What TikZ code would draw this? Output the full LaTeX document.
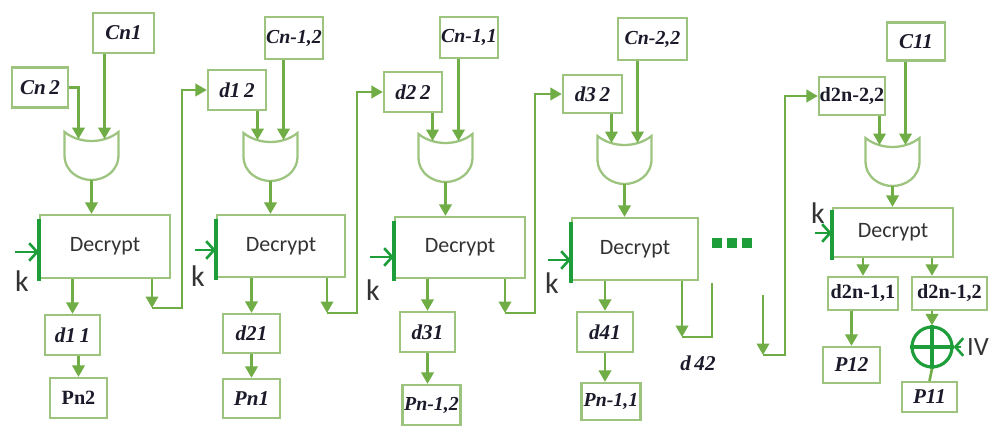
\documentclass[tikz,border=0pt]{standalone}
\usepackage{fontspec}
\setmainfont{Liberation Serif}
\newfontfamily\calibri{Carlito}
\usetikzlibrary{arrows.meta}
\definecolor{boxgreen}{HTML}{9CC47F}
\definecolor{flowgreen}{HTML}{70AD47}
\definecolor{keygreen}{HTML}{1E9E3A}
\definecolor{labtext}{HTML}{1A1A2A}
\definecolor{dectext}{HTML}{333333}
\begin{document}
\begin{tikzpicture}
    [ x=0.02cm, y=-0.02cm,
      lab/.style={draw=boxgreen, line width=1.3pt, inner sep=0pt, minimum height=0.8cm,
                  font=\fontsize{12}{14}\selectfont\bfseries\itshape, text=labtext},
      narrow/.style={font=\fontsize{11.3}{13}\selectfont\bfseries\itshape},
      upr/.style={font=\fontsize{11.5}{14}\selectfont\bfseries},
      dec/.style={draw=boxgreen, line width=1.3pt, minimum width=2.6cm, minimum height=1.26cm,
                  font=\calibri\fontsize{12.5}{14}\selectfont, text=dectext},
      flow/.style={draw=flowgreen, line width=1.5pt, -{Triangle[length=6.5pt,width=7pt]}},
      plain/.style={draw=flowgreen, line width=1.5pt},
      keyarrow/.style={draw=keygreen, line width=1.5pt, -{Straight Barb[length=4.5pt,width=10pt]}},
      keybar/.style={draw=keygreen, line width=2.4pt},
      kfont/.style={font=\calibri\fontsize{17}{18}\selectfont, text=dectext},
      dots/.style={fill=keygreen, inner sep=0pt, minimum size=0.2cm},
      gate/.pic={
        \draw[boxgreen, line width=1.3pt] (-27,0) .. controls (-12,12) and (12,12) .. (27,0)
          -- (27,23) .. controls (27,40) and (12,48) .. (0,48)
          .. controls (-12,48) and (-27,40) .. (-27,23) -- cycle;
        \coordinate (-in1) at (-13,7);
        \coordinate (-in2) at (13,7);
        \coordinate (-out) at (0,48);
      } ]

    \useasboundingbox (0,0) rectangle (994,428);

    % stage 1
    \node (cn2) at (40,87.5) [lab, minimum width=1.12cm] {Cn\,2};
    \node (cn1) at (123.5,33) [lab, minimum width=1.22cm] {Cn1};
    \pic (g1) at (91.5,132) {gate};
    \node (dec1) at (105,246.5) [dec] {Decrypt};
    \node (d11) at (72.5,335) [lab, minimum width=1.10cm] {d1\,1};
    \node (pn2) at (78.5,398) [lab, upr, minimum width=1.14cm] {Pn2};

    \draw[flow] (cn2.east) -| (g1-in1);
    \draw[flow] (cn1.south -| g1-in2) -- (g1-in2);
    \draw[flow] (g1-out) -- (g1-out |- dec1.north);
    \draw[flow] (dec1.south -| d11) -- (d11.north);
    \draw[flow] (d11.south -| pn2) -- (pn2.north);

    \coordinate (k1) at (15,252);
    \draw[keyarrow] (k1) -- (k1 -| dec1.west);
    \draw[keybar] ([yshift=-0.1cm]dec1.north west) -- ([yshift=-0.04cm]dec1.south west);
    \node (lk1) at (22,281) [kfont] {k};

    % stage 2
    \node (d12) at (237,90) [lab, minimum width=1.16cm] {d1\,2};
    \node (cn12) at (294,38) [lab, narrow, minimum width=1.16cm, minimum height=0.84cm] {Cn-1,2};
    \pic (g2) at (270.5,133) {gate};
    \node (dec2) at (281,246) [dec, minimum width=2.56cm, minimum height=1.24cm] {Decrypt};
    \node (d21) at (251.5,333.5) [lab, minimum width=1.14cm, minimum height=0.78cm] {d21};
    \node (pn1) at (251.5,398.5) [lab, minimum width=1.14cm, minimum height=0.78cm] {Pn1};

    \coordinate (f1a) at (152,308);
    \coordinate (f1b) at (182,308);
    \draw[flow] (dec1.south -| f1a) -- (f1a);
    \draw[flow] (f1a) -- (f1b) |- (d12.west);

    \draw[flow] (d12.south -| g2-in1) -- (g2-in1);
    \draw[flow] (cn12.south -| g2-in2) -- (g2-in2);
    \draw[flow] (g2-out) -- (g2-out |- dec2.north);
    \draw[flow] (dec2.south -| d21) -- (d21.north);
    \draw[flow] (d21) -- (pn1);

    \coordinate (k2) at (195,250);
    \draw[keyarrow] (k2) -- (k2 -| dec2.west);
    \draw[keybar] ([yshift=-0.1cm]dec2.north west) -- ([yshift=-0.04cm]dec2.south west);
    \node (lk2) at (198,276) [kfont] {k};

    % stage 3
    \node (d22) at (413,92) [lab, minimum width=1.16cm] {d2\,2};
    \node (cn11) at (469,37.5) [lab, narrow, minimum width=1.16cm, minimum height=0.82cm] {Cn-1,1};
    \pic (g3) at (445.5,134) {gate};
    \node (dec3) at (460,247.5) [dec, minimum height=1.22cm] {Decrypt};
    \node (d31) at (427.5,332) [lab, minimum width=1.10cm] {d31};
    \node (pn12) at (431.5,405) [lab, narrow, minimum width=1.16cm] {Pn-1,2};

    \coordinate (f2a) at (327,313);
    \coordinate (f2b) at (357,313);
    \draw[flow] (dec2.south -| f2a) -- (f2a);
    \draw[flow] (f2a) -- (f2b) |- (d22.west);

    \draw[flow] (d22.south -| g3-in1) -- (g3-in1);
    \draw[flow] (cn11.south -| g3-in2) -- (g3-in2);
    \draw[flow] (g3-out) -- (g3-out |- dec3.north);
    \draw[flow] (dec3.south -| d31) -- (d31.north);
    \draw[flow] (d31.south) -- (d31.south |- pn12.north);

    \coordinate (k3) at (370,257);
    \draw[keyarrow] (k3) -- (k3 -| dec3.west);
    \draw[keybar] ([yshift=-0.1cm]dec3.north west) -- ([yshift=-0.04cm]dec3.south west);
    \node (lk3) at (373,290) [kfont] {k};

    % stage 4
    \node (d32) at (592.5,94) [lab, minimum width=1.18cm, minimum height=0.76cm] {d3\,2};
    \node (cn22) at (652.5,39) [lab, narrow, minimum width=1.38cm, minimum height=0.84cm] {Cn-2,2};
    \pic (g4) at (624.5,136) {gate};
    \node (dec4) at (635,249) [dec, minimum width=2.52cm, minimum height=1.24cm] {Decrypt};
    \node (d41) at (605,332) [lab, minimum width=1.12cm] {d41};
    \node (pn11) at (611,401.5) [lab, narrow, minimum width=1.18cm, minimum height=0.74cm] {Pn-1,1};

    \coordinate (f3a) at (505,313);
    \coordinate (f3b) at (535,313);
    \draw[flow] (dec3.south -| f3a) -- (f3a);
    \draw[flow] (f3a) -- (f3b) |- (d32.west);

    \draw[flow] (d32.south -| g4-in1) -- (g4-in1);
    \draw[flow] (cn22.south -| g4-in2) -- (g4-in2);
    \draw[flow] (g4-out) -- (g4-out |- dec4.north);
    \draw[flow] (dec4.south -| d41) -- (d41.north);
    \draw[flow] (d41.south) -- (d41.south |- pn11.north);

    \coordinate (k4) at (548,260);
    \draw[keyarrow] (k4) -- (k4 -| dec4.west);
    \draw[keybar] ([yshift=-0.1cm]dec4.north west) -- ([yshift=-0.04cm]dec4.south west);
    \node (lk4) at (552,283) [kfont] {k};

    \node (dot1) at (717,243) [dots] {};
    \node (dot2) at (732,243) [dots] {};
    \node (dot3) at (747,243) [dots] {};

    \coordinate (f4a) at (682,337);
    \coordinate (f4b) at (712,337);
    \coordinate (f4c) at (712,283);
    \draw[flow] (dec4.south -| f4a) -- (f4a);
    \draw[plain] (f4a) -- (f4b) -- (f4c);
    \node (d42) at (698,363) [font=\fontsize{12}{14}\selectfont\bfseries\itshape, text=labtext] {d\,42};

    % stage 5
    \node (d2n22) at (852,96) [lab, upr, minimum width=1.32cm, minimum height=0.76cm] {d2n-2,2};
    \node (c11) at (916,41.5) [lab, minimum width=1.16cm, minimum height=0.76cm] {C11};
    \pic (g5) at (892.5,138) {gate};
    \node (dec5) at (893,232.5) [dec, minimum width=2.4cm, minimum height=0.98cm] {Decrypt};
    \node (d2n11) at (863,293.5) [lab, upr, minimum width=1.40cm, minimum height=0.66cm] {d2n-1,1};
    \node (d2n12) at (949.5,293.5) [lab, upr, minimum width=1.50cm, minimum height=0.66cm] {d2n-1,2};
    \node (p12) at (851.5,365) [lab, minimum width=1.14cm, minimum height=0.72cm] {P12};
    \node (xor) at (932,347) [circle, draw=keygreen, line width=1.8pt, minimum size=0.8cm, inner sep=0pt] {};
    \node (p11) at (929.5,397) [lab, minimum width=1.10cm, minimum height=0.6cm] {P11};
    \node (iv) at (978,347) [font=\calibri\fontsize{15}{16}\selectfont, text=dectext] {IV};

    \coordinate (f5a) at (763,295);
    \coordinate (f5b) at (763,355);
    \coordinate (f5c) at (785,355);
    \draw[flow] (f5a) -- (f5b);
    \draw[flow] (f5b) -- (f5c) |- (d2n22.west);

    \draw[flow] (d2n22.south -| g5-in1) -- (g5-in1);
    \draw[flow] (c11.south -| g5-in2) -- (g5-in2);
    \draw[flow] (g5-out) -- (g5-out |- dec5.north);
    \draw[flow] (dec5.south -| d2n11) -- (d2n11.north);
    \draw[flow] (dec5.south -| xor) -- (xor |- d2n12.north);
    \draw[flow] (d2n11.south -| p12) -- (p12.north);
    \draw[flow] (d2n12.south -| xor) -- (xor.north);
    \draw[keygreen, line width=1.8pt] (xor.north) -- (xor.south);
    \draw[keygreen, line width=1.8pt] (xor.west) -- (xor.east);
    \draw[keyarrow] (iv.west) -- (xor.east);
    \draw[plain] (xor.south) -- (p11.north);

    \coordinate (k5) at (815,233);
    \draw[keyarrow] (k5) -- (k5 -| dec5.west);
    \draw[keybar] ([yshift=-0.06cm]dec5.north west) -- ([yshift=-0.04cm]dec5.south west);
    \node (lk5) at (818,213) [kfont] {k};

\end{tikzpicture}
\end{document}
